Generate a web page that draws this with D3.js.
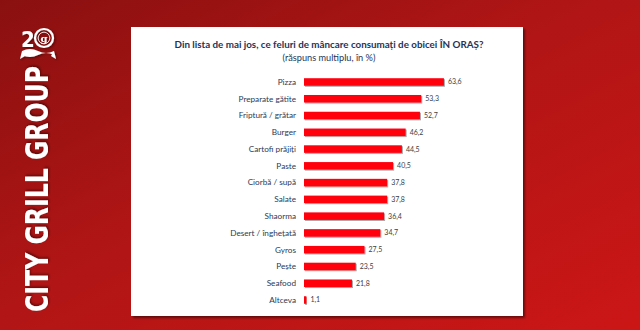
<!DOCTYPE html>
<html><head><meta charset="utf-8">
<script src="https://cdn.jsdelivr.net/npm/d3@7"></script>
<style>html,body{margin:0;padding:0;overflow:hidden;}svg{display:block;}</style>
</head><body>
<svg id="c" width="640" height="330"></svg>
<script>
const categories = ["Pizza","Preparate gătite","Friptură / grătar","Burger","Cartofi prăjiți","Paste","Ciorbă / supă","Salate","Shaorma","Desert / înghețată","Gyros","Pește","Seafood","Altceva"];
const values = [63.6,53.3,52.7,46.2,44.5,40.5,37.8,37.8,36.4,34.7,27.5,23.5,21.8,1.1];
const title = "Din lista de mai jos, ce feluri de mâncare consumați de obicei ÎN ORAȘ?";
const subtitle = "(răspuns multiplu, în %)";
const brand = "CITY GRILL GROUP";

const svg = d3.select("#c");
const defs = svg.append("defs");
const bg = defs.append("linearGradient").attr("id","bg").attr("x1","0").attr("y1","0").attr("x2","1").attr("y2","1");
bg.append("stop").attr("offset","0").attr("stop-color","#8a1010");
bg.append("stop").attr("offset","0.45").attr("stop-color","#b01515");
bg.append("stop").attr("offset","1").attr("stop-color","#cc1616");
svg.append("rect").attr("width",640).attr("height",330).attr("fill","url(#bg)");

const sh = defs.append("filter").attr("id","sh").attr("x","-10%").attr("y","-10%").attr("width","130%").attr("height","130%");
sh.append("feDropShadow").attr("dx",2).attr("dy",2).attr("stdDeviation",1.2).attr("flood-color","#000").attr("flood-opacity",0.45);

// panel
svg.append("rect").attr("x",131).attr("y",27).attr("width",392).attr("height",289).attr("fill","#fff").attr("filter","url(#sh)");

// titles
svg.append("text").attr("x",329).attr("y",48).attr("text-anchor","middle")
  .attr("font-family","Lato, 'Open Sans', sans-serif").attr("font-weight","bold").attr("font-size",9.8)
  .attr("fill","#1f3456").text(title);
svg.append("text").attr("x",329).attr("y",61).attr("text-anchor","middle")
  .attr("font-family","Lato, 'Open Sans', sans-serif").attr("font-size",9.2)
  .attr("fill","#1f3456").text(subtitle);

// chart
const x = d3.scaleLinear().domain([0,100]).range([304,524]);
const y = d3.scaleBand().domain(categories).range([73.6,308.4]).paddingInner(0.55).paddingOuter(0.275);
const g = svg.append("g");
const bsh = defs.append("filter").attr("id","bsh").attr("x","-5%").attr("y","-30%").attr("width","115%").attr("height","180%");
bsh.append("feDropShadow").attr("dx",1).attr("dy",1).attr("stdDeviation",0.4).attr("flood-color","#000").attr("flood-opacity",0.35);

g.selectAll("rect.bar").data(values).join("rect").attr("class","bar")
  .attr("x",x(0)).attr("y",(d,i)=>y(categories[i]))
  .attr("width",d=>x(d)-x(0)).attr("height",y.bandwidth())
  .attr("fill","#ff0010").attr("filter","url(#bsh)");

g.selectAll("text.cat").data(categories).join("text").attr("class","cat")
  .attr("x",296).attr("y",d=>y(d)+y.bandwidth()/2).attr("dy","0.35em").attr("text-anchor","end")
  .attr("font-family","Lato, 'Open Sans', sans-serif").attr("font-size",8.2)
  .attr("fill","#2b3a55").text(d=>d);

g.selectAll("text.val").data(values).join("text").attr("class","val")
  .attr("x",d=>x(d)+4).attr("y",(d,i)=>y(categories[i])+y.bandwidth()/2).attr("dy","0.35em")
  .attr("font-family","Lato, 'Open Sans', sans-serif").attr("font-size",7)
  .attr("fill","#404040").text(d=>d3.format(".1f")(d).replace(".",","));

// brand
const tsh = defs.append("filter").attr("id","tsh");
tsh.append("feDropShadow").attr("dx",1.5).attr("dy",1).attr("stdDeviation",0.8).attr("flood-color","#300").attr("flood-opacity",0.6);
svg.append("text").attr("transform","translate(48,312) rotate(-90)")
  .attr("font-family","'DejaVu Sans', sans-serif").attr("font-weight","bold").attr("font-stretch","condensed")
  .attr("font-size",32).attr("fill","#fff").attr("textLength",246).attr("lengthAdjust","spacingAndGlyphs")
  .attr("filter","url(#tsh)").text(brand);

// logo "20"
const lg = svg.append("g").attr("filter","url(#tsh)");
lg.append("text").attr("x",21).attr("y",47).attr("font-family","'DejaVu Sans', sans-serif").attr("font-weight","bold").attr("font-stretch","condensed")
  .attr("font-size",22).attr("fill","#fff").text("2");
lg.append("circle").attr("cx",44).attr("cy",38).attr("r",9).attr("fill","none").attr("stroke","#fff").attr("stroke-width",2.2);
lg.append("circle").attr("cx",44).attr("cy",38).attr("r",5.8).attr("fill","none").attr("stroke","#fff").attr("stroke-width",0.8);
lg.append("text").attr("x",44).attr("y",41.5).attr("text-anchor","middle").attr("font-family","'DejaVu Serif', serif").attr("font-weight","bold")
  .attr("font-size",10).attr("fill","#fff").text("g");
lg.append("path").attr("d","M22,51 Q30,47 38,51 T54,51 L54,55 Q46,51 38,55 T22,55 Z").attr("fill","#fff");
lg.append("path").attr("d","M22,51 L20,59 L25,56 Z M54,51 L56,59 L51,56 Z").attr("fill","#fff");
</script>
</body></html>
